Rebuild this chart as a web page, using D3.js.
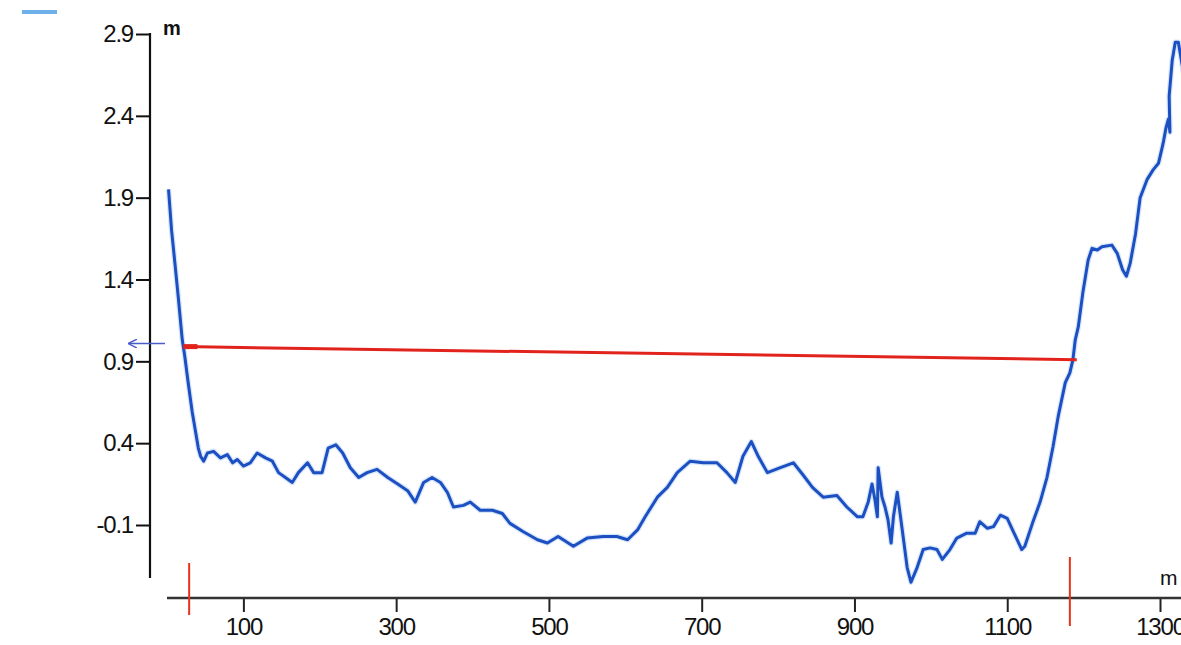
<!DOCTYPE html>
<html>
<head>
<meta charset="utf-8">
<script src="https://cdn.jsdelivr.net/npm/d3@7"></script>
<style>
  html, body { margin: 0; padding: 0; background: #fff; }
  svg { display: block; font-family: "Liberation Sans", Arial, sans-serif; }
</style>
</head>
<body>
<svg id="chart" width="1181" height="645"></svg>
<script>
// profile: distance (m) vs elevation (m)
const distance = [2, 6, 11, 15, 20, 23, 28, 33, 37, 41, 44, 48, 53, 61, 70, 79, 86, 92, 100, 109,
  118, 129, 138, 146, 155, 164, 172, 184, 192, 203, 211, 221, 230, 240, 251, 262, 275, 289, 302, 315,
  325, 336, 347, 358, 367, 375, 388, 397, 410, 426, 439, 449, 466, 485, 498, 512, 532, 550, 571, 589,
  603, 616, 626, 642, 655, 668, 685, 702, 720, 733, 744, 754, 765, 774, 786, 803, 820, 832, 845, 859,
  877, 890, 904, 911, 918, 923, 927, 930, 931, 936, 940, 944, 948, 951, 956, 962, 969, 974, 982, 990,
  999, 1008, 1015, 1025, 1034, 1047, 1058, 1064, 1074, 1082, 1091, 1100, 1108, 1119, 1123, 1133, 1143, 1152, 1160, 1167,
  1176, 1182, 1186, 1189, 1193, 1199, 1206, 1211, 1218, 1224, 1237, 1244, 1251, 1256, 1261, 1268, 1274, 1283, 1291, 1298,
  1304, 1308, 1311, 1313, 1312, 1316, 1320, 1324, 1328, 1333]
const elevation = [1.95, 1.70, 1.47, 1.28, 1.03, 0.94, 0.76, 0.59, 0.48, 0.37, 0.32, 0.29, 0.34, 0.35, 0.31, 0.33, 0.28, 0.30, 0.26, 0.28,
  0.34, 0.31, 0.29, 0.22, 0.19, 0.16, 0.22, 0.28, 0.22, 0.22, 0.37, 0.39, 0.34, 0.25, 0.19, 0.22, 0.24, 0.19, 0.15, 0.11,
  0.04, 0.16, 0.19, 0.16, 0.10, 0.01, 0.02, 0.04, -0.01, -0.01, -0.03, -0.09, -0.14, -0.19, -0.21, -0.17, -0.23, -0.18, -0.17, -0.17,
  -0.19, -0.13, -0.05, 0.07, 0.13, 0.22, 0.29, 0.28, 0.28, 0.22, 0.16, 0.32, 0.41, 0.32, 0.22, 0.25, 0.28, 0.21, 0.13, 0.07,
  0.08, 0.01, -0.05, -0.05, 0.04, 0.15, 0.05, -0.05, 0.25, 0.07, 0.01, -0.07, -0.21, -0.05, 0.10, -0.11, -0.36, -0.45, -0.36, -0.25,
  -0.24, -0.25, -0.31, -0.25, -0.18, -0.15, -0.15, -0.08, -0.12, -0.11, -0.04, -0.06, -0.14, -0.25, -0.23, -0.09, 0.04, 0.19, 0.38, 0.57,
  0.77, 0.83, 0.91, 1.03, 1.11, 1.32, 1.52, 1.59, 1.58, 1.60, 1.61, 1.56, 1.46, 1.42, 1.50, 1.68, 1.90, 2.01, 2.07, 2.11,
  2.23, 2.33, 2.38, 2.30, 2.52, 2.74, 2.85, 2.85, 2.74, 2.60]

const yTicks = [2.9, 2.4, 1.9, 1.4, 0.9, 0.4, -0.1]
const xTicks = [100, 300, 500, 700, 900, 1100, 1300]

// red reference line and section markers
const refDistance = [21.5, 1191]
const refElevation = [0.99, 0.91]
const markerDistance = [29, 1182]

const svg = d3.select('#chart')

const x = d3.scaleLinear().domain([0, 1300]).range([167, 1160])
const y = d3.scaleLinear().domain([-0.1, 2.9]).range([525, 34])

const axisX0 = 150   // y axis position
const axisY0 = 598   // x axis position

// faint remains of a legend at the top
svg.append('line')
  .attr('x1', 22).attr('x2', 57).attr('y1', 12).attr('y2', 12)
  .attr('stroke', '#4a9ee6').attr('stroke-width', 4).attr('opacity', 0.8)

// y axis
const gy = svg.append('g')
  .attr('transform', `translate(${axisX0},0)`)
  .call(d3.axisLeft(y).tickValues(yTicks).tickSize(14).tickPadding(3).tickFormat((d) => d.toFixed(1)))
gy.select('.domain').remove()
gy.selectAll('.tick line').attr('stroke', '#111').attr('stroke-width', 2)
gy.selectAll('.tick text')
  .attr('fill', '#111').attr('font-size', 24).attr('letter-spacing', -1.2)
  .attr('font-family', '"Liberation Sans", Arial, sans-serif')
svg.append('line')
  .attr('x1', axisX0).attr('x2', axisX0).attr('y1', y(2.9) - 1).attr('y2', 578)
  .attr('stroke', '#111').attr('stroke-width', 2.2)
svg.append('text')
  .attr('x', 163).attr('y', 35)
  .attr('font-size', 20).attr('font-weight', 'bold').attr('fill', '#111')
  .text('m')

// x axis
const gx = svg.append('g')
  .attr('transform', `translate(0,${axisY0})`)
  .call(d3.axisBottom(x).tickValues(xTicks).tickSize(14).tickPadding(6).tickFormat(d3.format('d')))
gx.select('.domain').remove()
gx.selectAll('.tick line').attr('stroke', '#222').attr('stroke-width', 2)
gx.selectAll('.tick text')
  .attr('fill', '#111').attr('font-size', 24).attr('letter-spacing', -1.2)
  .attr('font-family', '"Liberation Sans", Arial, sans-serif')
svg.append('line')
  .attr('x1', x(0)).attr('x2', 1181).attr('y1', axisY0).attr('y2', axisY0)
  .attr('stroke', '#333').attr('stroke-width', 2.5)
svg.append('text')
  .attr('x', 1160).attr('y', 585)
  .attr('font-size', 21).attr('fill', '#111')
  .text('m')

// small blue arrow at the y axis
svg.append('defs').append('marker')
  .attr('id', 'arrowBlue')
  .attr('viewBox', '0 0 10 10').attr('refX', 9).attr('refY', 5)
  .attr('markerWidth', 6).attr('markerHeight', 6).attr('orient', 'auto')
  .append('path').attr('d', 'M0,0 L10,5 L0,10').attr('fill', 'none').attr('stroke', '#4a5cc8').attr('stroke-width', 1.6)
svg.append('line')
  .attr('x1', 165).attr('x2', 129).attr('y1', y(refElevation[0]) - 3).attr('y2', y(refElevation[0]) - 3)
  .attr('stroke', '#4a5cc8').attr('stroke-width', 1.5)
  .attr('marker-end', 'url(#arrowBlue)')

// profile line
const pts = distance.map((d, i) => [d, elevation[i]])
const line = d3.line().x((d) => x(d[0])).y((d) => y(d[1]))
svg.append('path')
  .datum(pts)
  .attr('d', line)
  .attr('fill', 'none')
  .attr('stroke', '#8fb6ee')
  .attr('stroke-width', 5.5)
  .attr('stroke-opacity', 0.35)
  .attr('stroke-linejoin', 'round')
svg.append('path')
  .datum(pts)
  .attr('d', line)
  .attr('fill', 'none')
  .attr('stroke', '#1c4fc2')
  .attr('stroke-width', 3)
  .attr('stroke-linejoin', 'round')

// red reference line
svg.append('line')
  .attr('x1', x(refDistance[0])).attr('x2', x(refDistance[1]))
  .attr('y1', y(refElevation[0])).attr('y2', y(refElevation[1]))
  .attr('stroke', '#e2231c').attr('stroke-width', 3)
svg.append('line')
  .attr('x1', x(refDistance[0])).attr('x2', x(refDistance[0]) + 14)
  .attr('y1', y(refElevation[0])).attr('y2', y(refElevation[0]))
  .attr('stroke', '#e2231c').attr('stroke-width', 5)

// red section markers
const markerTop = [axisY0 - 35, axisY0 - 41]
const markerBottom = [axisY0 + 17, axisY0 + 28]
svg.selectAll('line.marker')
  .data(markerDistance)
  .join('line')
  .attr('class', 'marker')
  .attr('x1', (d) => x(d)).attr('x2', (d) => x(d))
  .attr('y1', (d, i) => markerTop[i]).attr('y2', (d, i) => markerBottom[i])
  .attr('stroke', '#e8331c').attr('stroke-width', 2)
</script>
</body>
</html>
